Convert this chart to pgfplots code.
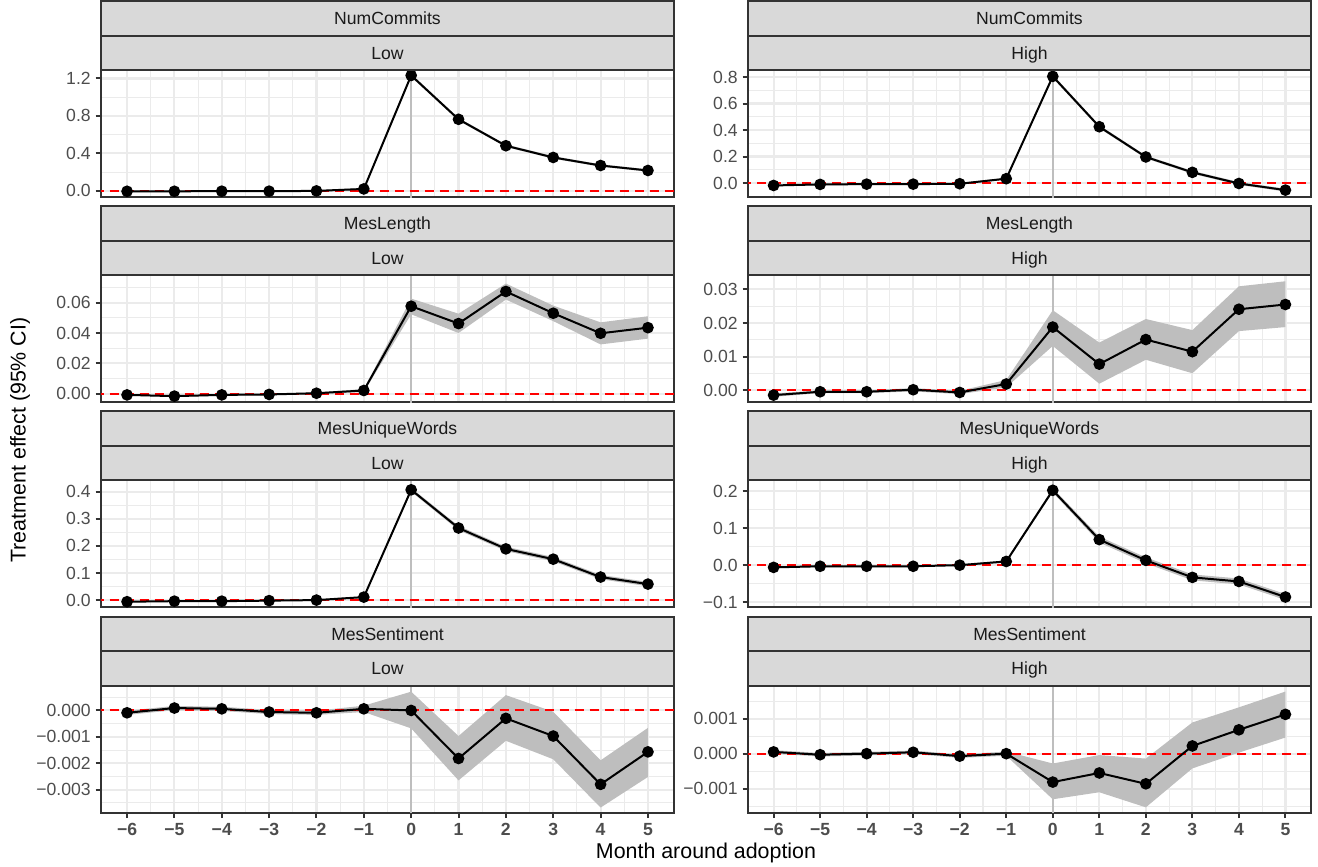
\documentclass[border=0pt]{standalone}
\usepackage{fontspec}
\setmainfont{Liberation Sans}
\usepackage{pgfplots}
\usepackage{pgfplotstable}
\usepgfplotslibrary{fillbetween}
\pgfplotsset{compat=1.18}
\definecolor{gray10}{HTML}{1A1A1A}
\definecolor{gray20}{HTML}{333333}
\definecolor{gray30}{HTML}{4D4D4D}
\definecolor{gray85}{HTML}{D9D9D9}
\definecolor{gray92}{HTML}{EBEBEB}
\definecolor{ribboncol}{HTML}{BEBEBE}
\definecolor{vlinecol}{HTML}{BEBEBE}

% x y lo hi
\pgfplotstableread{
x y lo hi
-6 -0.004 -0.012 0.004
-5 -0.004 -0.012 0.004
-4 -0.003 -0.011 0.005
-3 -0.003 -0.011 0.005
-2 0.000 -0.008 0.008
-1 0.021 0.011 0.031
0 1.232 1.215 1.249
1 0.764 0.749 0.779
2 0.482 0.468 0.496
3 0.357 0.343 0.371
4 0.271 0.258 0.284
5 0.218 0.205 0.231
}\NCL
\pgfplotstableread{
x y lo hi
-6 -0.018 -0.024 -0.012
-5 -0.010 -0.016 -0.004
-4 -0.008 -0.014 -0.002
-3 -0.008 -0.014 -0.002
-2 -0.005 -0.011 0.001
-1 0.033 0.025 0.041
0 0.805 0.792 0.818
1 0.425 0.413 0.437
2 0.197 0.186 0.208
3 0.081 0.070 0.092
4 -0.003 -0.014 0.008
5 -0.053 -0.064 -0.042
}\NCH
\pgfplotstableread{
x y lo hi
-6 -0.0007 -0.0012 -0.0002
-5 -0.0015 -0.0020 -0.0010
-4 -0.0007 -0.0012 -0.0002
-3 -0.0004 -0.0009 0.0001
-2 0.0004 -0.0001 0.0009
-1 0.0022 0.0012 0.0032
0 0.0576 0.0523 0.0626
1 0.0462 0.0400 0.0527
2 0.0673 0.0620 0.0725
3 0.0530 0.0478 0.0580
4 0.0398 0.0325 0.0470
5 0.0435 0.0363 0.0510
}\MLL
\pgfplotstableread{
x y lo hi
-6 -0.0014 -0.0019 -0.0009
-5 -0.0004 -0.0008 0.0000
-4 -0.0004 -0.0008 0.0000
-3 0.0002 -0.0003 0.0007
-2 -0.0006 -0.0011 -0.0001
-1 0.0019 0.0009 0.0031
0 0.0188 0.0132 0.0238
1 0.0078 0.0020 0.0142
2 0.0151 0.0091 0.0212
3 0.0115 0.0051 0.0179
4 0.0241 0.0176 0.0309
5 0.0255 0.0188 0.0324
}\MLH
\pgfplotstableread{
x y lo hi
-6 -0.006 -0.008 -0.004
-5 -0.004 -0.006 -0.002
-4 -0.004 -0.006 -0.002
-3 -0.002 -0.004 0.000
-2 0.000 -0.002 0.002
-1 0.011 0.008 0.014
0 0.407 0.400 0.414
1 0.266 0.258 0.274
2 0.189 0.181 0.197
3 0.151 0.143 0.159
4 0.085 0.077 0.093
5 0.059 0.051 0.067
}\MUL
\pgfplotstableread{
x y lo hi
-6 -0.006 -0.008 -0.004
-5 -0.003 -0.005 -0.001
-4 -0.003 -0.005 -0.001
-3 -0.003 -0.005 -0.001
-2 0.000 -0.002 0.002
-1 0.010 0.007 0.013
0 0.202 0.196 0.208
1 0.069 0.061 0.077
2 0.013 0.005 0.021
3 -0.033 -0.041 -0.025
4 -0.044 -0.052 -0.036
5 -0.086 -0.094 -0.078
}\MUH
\pgfplotstableread{
x y lo hi
-6 -0.00009 -0.00017 -0.00001
-5 0.00009 0.00001 0.00017
-4 0.00006 -0.00002 0.00014
-3 -0.00006 -0.00014 0.00002
-2 -0.00009 -0.00017 -0.00001
-1 0.00006 -0.00006 0.00018
0 0.00000 -0.00068 0.00071
1 -0.00182 -0.00265 -0.00097
2 -0.00030 -0.00115 0.00058
3 -0.00097 -0.00185 -0.00005
4 -0.00280 -0.00368 -0.00189
5 -0.00157 -0.00252 -0.00066
}\MSL
\pgfplotstableread{
x y lo hi
-6 0.00005 0.00000 0.00010
-5 -0.00003 -0.00008 0.00002
-4 0.00000 -0.00005 0.00005
-3 0.00004 -0.00001 0.00009
-2 -0.00007 -0.00012 -0.00002
-1 0.00000 -0.00006 0.00006
0 -0.00081 -0.00130 -0.00028
1 -0.00055 -0.00110 -0.00004
2 -0.00086 -0.00153 -0.00014
3 0.00022 -0.00042 0.00089
4 0.00068 0.00003 0.00132
5 0.00112 0.00046 0.00177
}\MSH

\pgfplotsset{
  panel/.style={
    scale only axis, height=63.5pt, anchor=north west,
    xmin=-6.55, xmax=5.55,
    axis line style={draw=gray20, line width=1pt},
    xtick={-6,-5,...,5}, minor xtick={-5.5,-4.5,...,4.5},
    xmajorgrids, ymajorgrids, xminorgrids, yminorgrids,
    major grid style={draw=gray92, line width=1.07pt},
    minor grid style={draw=gray92, line width=0.53pt},
    tick align=outside, tick pos=left, major tick length=2.75pt, minor tick length=0pt,
    tick style={draw=gray20, line width=1pt},
    yticklabel style={font=\fontsize{8.8}{10}\selectfont, text=gray30, inner sep=0pt, xshift=-2.2pt},
    xticklabel style={font=\fontsize{8.8}{10}\selectfont\bfseries, text=gray30, inner sep=0pt, yshift=-2.2pt},
    scaled y ticks=false,
  },
  toprow/.style={xticklabels={}, xtick style={draw=none}},
  botrow/.style={xticklabels={−6,−5,−4,−3,−2,−1,0,1,2,3,4,5}},
  vl/.style={draw=vlinecol, line width=1pt, forget plot},
  rib/.style={fill=ribboncol, draw=none},
  zl/.style={draw=red, line width=1pt, dash pattern=on 4.5pt off 3pt},
  dl/.style={draw=black, line width=1pt, mark=*, mark size=2.4pt, mark options={solid, fill=black, draw=black}},
}

\newcommand{\series}[1]{%
  \addplot[name path=U, draw=none] table[x=x,y=hi]{#1};
  \addplot[name path=L, draw=none] table[x=x,y=lo]{#1};
  \addplot[rib] fill between[of=U and L];
  \addplot[zl] coordinates {(-7,0) (6,0)};
  \addplot[dl] table[x=x,y=y]{#1};
}

\begin{document}
\begin{tikzpicture}

% Row 1
\begin{axis}[panel, toprow, at={(50.5pt,-35pt)}, width=286.5pt,
  ymin=-0.065, ymax=1.29, ytick={0,0.4,0.8,1.2}, yticklabels={0.0,0.4,0.8,1.2},
  minor ytick={0.2,0.6,1.0}]
  \addplot[vl] coordinates {(0,-0.2) (0,1.4)};
  \series{\NCL}
\end{axis}
\begin{axis}[panel, toprow, at={(374pt,-35pt)}, width=281.5pt,
  ymin=-0.105, ymax=0.853, ytick={0,0.2,0.4,0.6,0.8}, yticklabels={0.0,0.2,0.4,0.6,0.8},
  minor ytick={0.1,0.3,0.5,0.7}]
  \addplot[vl] coordinates {(0,-0.2) (0,1)};
  \series{\NCH}
\end{axis}

% Row 2
\begin{axis}[panel, toprow, at={(50.5pt,-137.6pt)}, width=286.5pt,
  ymin=-0.0055, ymax=0.078, ytick={0,0.02,0.04,0.06}, yticklabels={0.00,0.02,0.04,0.06},
  minor ytick={0.01,0.03,0.05,0.07}]
  \addplot[vl] coordinates {(0,-0.01) (0,0.09)};
  \series{\MLL}
\end{axis}
\begin{axis}[panel, toprow, at={(374pt,-137.6pt)}, width=281.5pt,
  ymin=-0.0035, ymax=0.0342, ytick={0,0.01,0.02,0.03}, yticklabels={0.00,0.01,0.02,0.03},
  minor ytick={0.005,0.015,0.025}]
  \addplot[vl] coordinates {(0,-0.01) (0,0.04)};
  \series{\MLH}
\end{axis}

% Row 3
\begin{axis}[panel, toprow, at={(50.5pt,-240.2pt)}, width=286.5pt,
  ymin=-0.027, ymax=0.4417, ytick={0,0.1,0.2,0.3,0.4}, yticklabels={0.0,0.1,0.2,0.3,0.4},
  minor ytick={0.05,0.15,0.25,0.35}]
  \addplot[vl] coordinates {(0,-0.05) (0,0.5)};
  \series{\MUL}
\end{axis}
\begin{axis}[panel, toprow, at={(374pt,-240.2pt)}, width=281.5pt,
  ymin=-0.114, ymax=0.2287, ytick={-0.1,0,0.1,0.2}, yticklabels={−0.1,0.0,0.1,0.2},
  minor ytick={-0.05,0.05,0.15}]
  \addplot[vl] coordinates {(0,-0.2) (0,0.3)};
  \series{\MUH}
\end{axis}

% Row 4
\begin{axis}[panel, botrow, at={(50.5pt,-342.8pt)}, width=286.5pt,
  ymin=-0.00387, ymax=0.00094, ytick={-0.003,-0.002,-0.001,0}, yticklabels={−0.003,−0.002,−0.001,0.000},
  minor ytick={-0.0035,-0.0025,-0.0015,-0.0005,0.0005}]
  \addplot[vl] coordinates {(0,-0.005) (0,0.002)};
  \series{\MSL}
\end{axis}
\begin{axis}[panel, botrow, at={(374pt,-342.8pt)}, width=281.5pt,
  ymin=-0.00168, ymax=0.00194, ytick={-0.001,0,0.001}, yticklabels={−0.001,0.000,0.001},
  minor ytick={-0.0015,-0.0005,0.0005,0.0015}]
  \addplot[vl] coordinates {(0,-0.003) (0,0.003)};
  \series{\MSH}
\end{axis}

% Strips
\foreach \t/\nm in {35/NumCommits, 137.6/MesLength, 240.2/MesUniqueWords, 342.8/MesSentiment} {
  \foreach \x/\w/\lab in {50.5/286.5/Low, 374/281.5/High} {
    \draw[fill=gray85, draw=gray20, line width=1pt] ({\x*1pt},{(-\t+34.5)*1pt}) rectangle ({(\x+\w)*1pt},{(-\t+17.25)*1pt});
    \draw[fill=gray85, draw=gray20, line width=1pt] ({\x*1pt},{(-\t+17.25)*1pt}) rectangle ({(\x+\w)*1pt},{-\t*1pt});
    \node[font=\fontsize{8.8}{10}\selectfont, text=gray10, inner sep=0pt, anchor=base] at ({(\x+\w/2)*1pt},{(-\t+25.875-3.15)*1pt}) {\nm};
    \node[font=\fontsize{8.8}{10}\selectfont, text=gray10, inner sep=0pt, anchor=base] at ({(\x+\w/2)*1pt},{(-\t+8.625-3.15)*1pt}) {\lab};
  }
}

% Axis titles
\node[font=\fontsize{10.7}{12}\selectfont, rotate=90, inner sep=0pt] at (10pt,-220pt) {Treatment effect (95\% CI)};
\node[font=\fontsize{10.7}{12}\selectfont, inner sep=0pt] at (353pt,-426.5pt) {Month around adoption};

\pgfresetboundingbox
\path[use as bounding box] (0pt,0pt) rectangle (659pt,-433.5pt);
\end{tikzpicture}
\end{document}
